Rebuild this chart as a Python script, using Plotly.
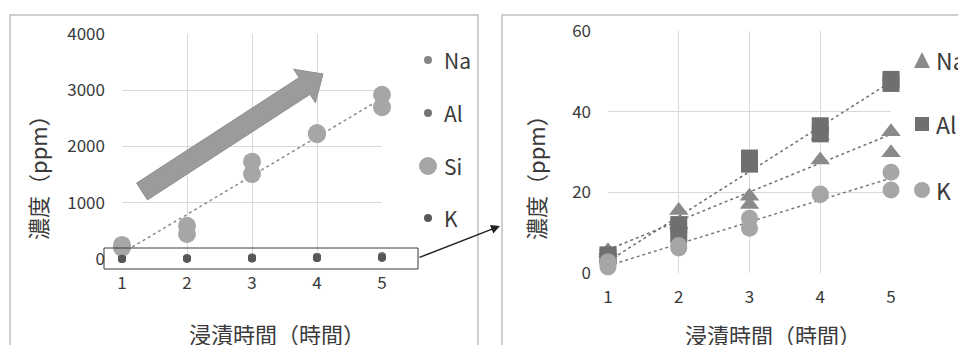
import numpy as np
import plotly.graph_objects as go

W, H = 958, 345

# ---------------- data ----------------
hours = [1, 1, 2, 2, 3, 3, 4, 4, 5, 5]
si_ppm = [250, 200, 590, 445, 1730, 1510, 2240, 2220, 2920, 2700]
na_ppm = [5.5, 5.0, 15.5, 12.0, 19.0, 17.0, 28.0, 34.0, 35.0, 29.8]
al_ppm = [4.5, 4.0, 12.0, 9.5, 28.5, 27.0, 36.5, 34.5, 48.0, 47.0]
k_ppm = [2.8, 1.5, 6.2, 6.8, 13.6, 11.1, 19.6, 19.4, 25.0, 20.6]
x_ticks = [1, 2, 3, 4, 5]
left_y_ticks = [0, 1000, 2000, 3000, 4000]
right_y_ticks = [0, 20, 40, 60]
x_title = "浸漬時間（時間）"
y_title = "濃度（ppm）"
series_names = ["Na", "Al", "Si", "K"]

FONT = "Noto Sans CJK JP"
TEXT_COLOR = "#3a3a3a"


def px(x):
    return x / W


def py(y):
    return 1 - y / H


def trend(x, y):
    a, b = np.polyfit(x, y, 1)
    xs = np.array([1.0, 5.0])
    return xs, a * xs + b


fig = go.Figure()

# ---------------- left panel ----------------
tx, ty = trend(hours, si_ppm)
fig.add_trace(go.Scatter(x=tx, y=ty, mode="lines", xaxis="x", yaxis="y",
                         line=dict(color="#8c8c8c", width=1.5, dash="dot"),
                         showlegend=False, hoverinfo="skip"))
fig.add_trace(go.Scatter(x=hours, y=na_ppm, mode="markers", xaxis="x", yaxis="y",
                         marker=dict(size=8, color="#858585"), name="Na",
                         showlegend=False, cliponaxis=False))
fig.add_trace(go.Scatter(x=hours, y=al_ppm, mode="markers", xaxis="x", yaxis="y",
                         marker=dict(size=8, color="#747474"), name="Al",
                         showlegend=False, cliponaxis=False))
fig.add_trace(go.Scatter(x=hours, y=si_ppm, mode="markers", xaxis="x", yaxis="y",
                         marker=dict(size=18, color="#a6a6a6"), name="Si",
                         showlegend=False, cliponaxis=False))
fig.add_trace(go.Scatter(x=hours, y=k_ppm, mode="markers", xaxis="x", yaxis="y",
                         marker=dict(size=8, color="#585858"), name="K",
                         showlegend=False, cliponaxis=False))

# ---------------- right panel ----------------
for yy, col in [(al_ppm, "#6e6e6e"), (na_ppm, "#707070"), (k_ppm, "#7a7a7a")]:
    tx, ty = trend(hours, yy)
    fig.add_trace(go.Scatter(x=tx, y=ty, mode="lines", xaxis="x2", yaxis="y2",
                             line=dict(color=col, width=1.5, dash="dot"),
                             showlegend=False, hoverinfo="skip"))
fig.add_trace(go.Scatter(x=hours, y=na_ppm, mode="markers", xaxis="x2", yaxis="y2",
                         marker=dict(size=17, symbol="triangle-up", color="#8a8a8a"),
                         name="Na", showlegend=False, cliponaxis=False))
fig.add_trace(go.Scatter(x=hours, y=al_ppm, mode="markers", xaxis="x2", yaxis="y2",
                         marker=dict(size=17, symbol="square", color="#6f6f6f"),
                         name="Al", showlegend=False, cliponaxis=False))
fig.add_trace(go.Scatter(x=hours, y=k_ppm, mode="markers", xaxis="x2", yaxis="y2",
                         marker=dict(size=17, color="#a6a6a6"),
                         name="K", showlegend=False, cliponaxis=False))

axis_common = dict(showgrid=True, gridcolor="#d9d9d9", gridwidth=1, zeroline=False,
                   showline=False, ticks="", fixedrange=True, automargin=False,
                   tickfont=dict(family=FONT, size=17, color=TEXT_COLOR))

fig.update_layout(
    template="none",
    width=W, height=H, margin=dict(l=0, r=0, t=0, b=0, pad=0, autoexpand=False),
    paper_bgcolor="white", plot_bgcolor="white", showlegend=False,
    xaxis=dict(domain=[px(122), px(382)], range=[1, 5], tickvals=x_ticks,
               anchor="y", ticklabelstandoff=12, **axis_common),
    yaxis=dict(domain=[py(259), py(34)], range=[0, 4000], tickvals=left_y_ticks,
               anchor="x", ticklabelstandoff=16, **axis_common),
    xaxis2=dict(domain=[px(608), px(891)], range=[1, 5], tickvals=x_ticks,
                anchor="y2", ticklabelstandoff=12, **axis_common),
    yaxis2=dict(domain=[py(273), py(31)], range=[0, 60], tickvals=right_y_ticks,
                anchor="x2", ticklabelstandoff=16, **axis_common),
)

shapes = []
# frames
shapes.append(dict(type="rect", xref="paper", yref="paper", x0=px(10), x1=px(478),
                   y0=py(370), y1=py(15), line=dict(color="#c0c0c0", width=1.5), layer="below"))
shapes.append(dict(type="rect", xref="paper", yref="paper", x0=px(502), x1=px(990),
                   y0=py(370), y1=py(15), line=dict(color="#c0c0c0", width=1.5), layer="below"))

# big arrow
tail = np.array([142.0, 191.5])
tip = np.array([323.0, 74.0])
u = (tip - tail) / np.linalg.norm(tip - tail)
n = np.array([-u[1], u[0]])
base = tip - 22 * u
pts = [tail - 10 * n, base - 10 * n, base - 20 * n, tip, base + 20 * n, base + 10 * n, tail + 10 * n]
path = "M " + " L ".join(f"{px(p[0]):.5f},{py(p[1]):.5f}" for p in pts) + " Z"
shapes.append(dict(type="path", xref="paper", yref="paper", path=path,
                   fillcolor="#9b9b9b", line=dict(color="#8f8f8f", width=1), layer="above"))

# zoom box
shapes.append(dict(type="rect", xref="paper", yref="paper", x0=px(104), x1=px(418),
                   y0=py(269), y1=py(248), line=dict(color="#3a3a3a", width=1), layer="above"))


def circle(cx, cy, d, color):
    return dict(type="circle", xref="paper", yref="paper", x0=px(cx - d / 2), x1=px(cx + d / 2),
                y0=py(cy + d / 2), y1=py(cy - d / 2), fillcolor=color, line=dict(width=0))


def square(cx, cy, s, color):
    return dict(type="rect", xref="paper", yref="paper", x0=px(cx - s / 2), x1=px(cx + s / 2),
                y0=py(cy + s / 2), y1=py(cy - s / 2), fillcolor=color, line=dict(width=0))


def triangle(cx, cy, s, color):
    p = [(cx, cy - s / 2), (cx + s / 2, cy + s / 2), (cx - s / 2, cy + s / 2)]
    path = "M " + " L ".join(f"{px(a):.5f},{py(b):.5f}" for a, b in p) + " Z"
    return dict(type="path", xref="paper", yref="paper", path=path, fillcolor=color, line=dict(width=0))


# left legend
left_leg_y = [60, 113, 166, 218]
shapes += [circle(428, left_leg_y[0], 8, "#858585"),
           circle(428, left_leg_y[1], 8, "#747474"),
           circle(428, left_leg_y[2], 18, "#a6a6a6"),
           circle(428, left_leg_y[3], 8, "#585858")]
# right legend
right_leg_y = [60, 124, 190]
shapes += [triangle(922, right_leg_y[0], 16, "#8a8a8a"),
           square(922, right_leg_y[1], 14, "#6f6f6f"),
           circle(922, right_leg_y[2], 16, "#a6a6a6")]

fig.update_layout(shapes=shapes)

ann = []
for name, yy in zip(series_names, left_leg_y):
    ann.append(dict(text=name, x=px(442), y=py(yy), xref="paper", yref="paper",
                    xanchor="left", yanchor="middle", showarrow=False,
                    font=dict(family=FONT, size=21, color=TEXT_COLOR)))
for name, yy in zip(["Na", "Al", "K"], right_leg_y):
    ann.append(dict(text=name, x=px(934), y=py(yy), xref="paper", yref="paper",
                    xanchor="left", yanchor="middle", showarrow=False,
                    font=dict(family=FONT, size=23, color=TEXT_COLOR)))
# axis titles
for cx, cy in [(277, 333), (773, 334)]:
    ann.append(dict(text=x_title, x=px(cx), y=py(cy), xref="paper", yref="paper",
                    xanchor="center", yanchor="middle", showarrow=False,
                    font=dict(family=FONT, size=22, color=TEXT_COLOR)))
for cx, cy in [(37, 172), (535, 172)]:
    ann.append(dict(text=y_title, x=px(cx), y=py(cy), xref="paper", yref="paper",
                    xanchor="center", yanchor="middle", showarrow=False, textangle=-90,
                    font=dict(family=FONT, size=22, color=TEXT_COLOR)))
# connector arrow
ann.append(dict(text="", x=px(500), y=py(226), xref="paper", yref="paper",
                ax=-82, ay=32, axref="pixel", ayref="pixel", showarrow=True,
                arrowhead=2, arrowsize=1.2, arrowwidth=1.5, arrowcolor="#222222"))
fig.update_layout(annotations=ann)

fig.write_html("out.html", config={"displayModeBar": False},
               post_script="document.body.style.margin='0';document.body.style.overflow='hidden';")
